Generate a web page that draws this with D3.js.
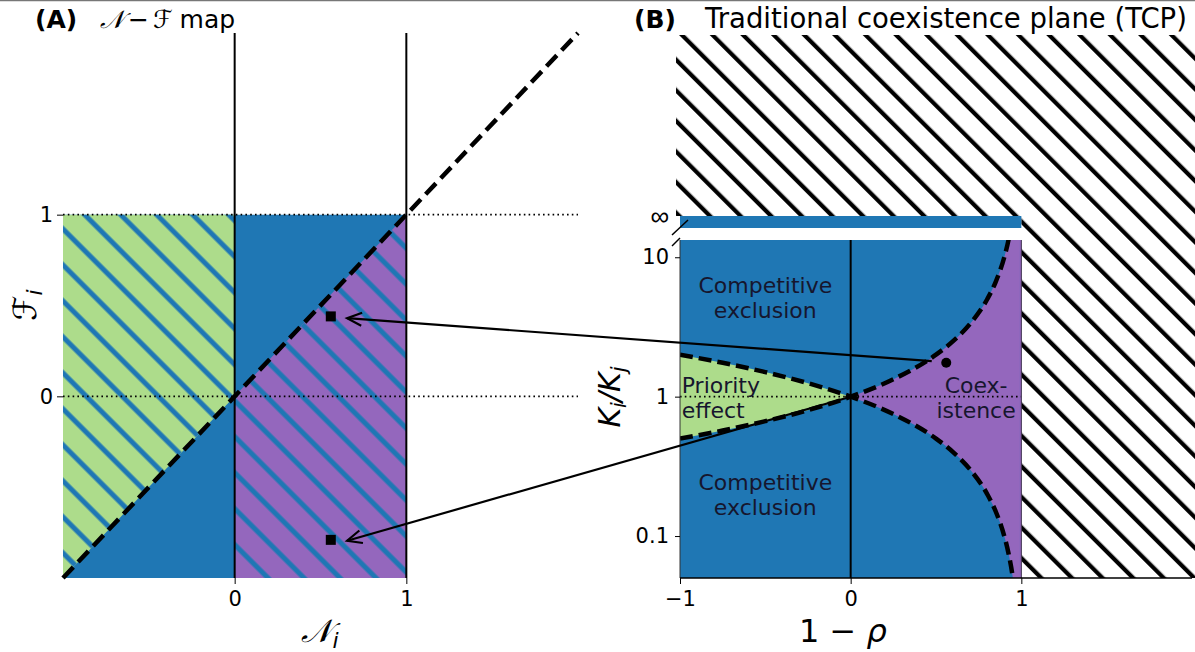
<!DOCTYPE html>
<html><head><meta charset="utf-8">
<script src="https://cdn.jsdelivr.net/npm/d3@7"></script>
<style>
html,body{margin:0;padding:0;background:#fff;}
svg{display:block;font-family:"DejaVu Sans",sans-serif;}
</style></head><body>
<svg id="chart" width="1195" height="652"></svg>
<script>
// ---------------- data ----------------
// Panel A: N-F map
const mapTicksX = [0, 1];
const mapTicksY = [0, 1];
const blueRegionA = [[-1, -1], [1, -1], [1, 1], [-1, 1]];
const greenRegionA = [[-1, -1], [0, 0], [0, 1], [-1, 1]];
const purpleRegionA = [[0, 0], [1, 1], [1, -1], [0, -1]];
const diagonalA = [[-1, -1], [2, 2]];
const verticalsA = [0, 1];
const dottedA = [0, 1];
const pointsA = [[0.56, 0.44], [0.56, -0.79]];

// Panel B: traditional coexistence plane
const tcpTicksX = [-1, 0, 1];
const tcpTickLabelsX = ["\u22121", "0", "1"];
const tcpTicksY = [0.1, 1, 10];
const tcpTickLabelsY = ["0.1", "1", "10"];
const gridX   = [-1, -0.75, -0.5, -0.25, 0, 0.25, 0.5, 0.6, 0.7, 0.8, 0.85, 0.9, 0.925, 0.95, 0.975, 0.99];
const rhoK    = [2.0, 1.75, 1.5, 1.25, 1.0, 0.75, 0.5, 0.4, 0.3, 0.2, 0.15, 0.1, 0.075, 0.05, 0.025, 0.01];
const invRhoK = [0.5, 0.571, 0.667, 0.8, 1.0, 1.333, 2.0, 2.5, 3.333, 5.0, 6.667, 10.0, 13.33, 20.0, 40.0, 100.0];
const pointB = [0.56, 1.75];
const arrowStartsB = [[0.475, 1.80], [-0.015, 0.985]];
const arrowEndsA = [[0.655, 0.43], [0.655, -0.795]];
const regionLabels = [
  {lines: ["Competitive", "exclusion"], x: -0.5, k: 5.2, anchor: "middle"},
  {lines: ["Competitive", "exclusion"], x: -0.5, k: 0.2, anchor: "middle"},
  {lines: ["Priority", "effect"], x: -0.99, k: 1.0, anchor: "start"},
  {lines: ["Coex-", "istence"], x: 0.735, k: 1.0, anchor: "middle"}
];

// ---------------- colours ----------------
const C_BLUE = "#1f77b4", C_GREEN = "#addc8b", C_PURPLE = "#9467bd", C_TEXT = "#16162e";

const svg = d3.select("#chart");
const defs = svg.append("defs");

function hatch(id, period, offset, width, color) {
  const p = defs.append("pattern").attr("id", id)
    .attr("patternUnits", "userSpaceOnUse")
    .attr("width", 10).attr("height", period)
    .attr("patternTransform", "rotate(45)");
  [-period, 0, period].forEach(s => {
    p.append("rect").attr("x", 0).attr("y", offset - width / 2 + s)
      .attr("width", 10).attr("height", width).attr("fill", color);
  });
}
hatch("hatchA", 36 / Math.SQRT2, 22 / Math.SQRT2, 5, C_BLUE);
hatch("hatchB", 30.6 / Math.SQRT2, 26.2 / Math.SQRT2, 4.2, "#000");

// thin frame line at very top
svg.append("line").attr("x1", 0).attr("x2", 1195).attr("y1", 0.5).attr("y2", 0.5)
  .attr("stroke", "#777").attr("stroke-width", 1.5);

// ================= Panel A =================
const xA = d3.scaleLinear([-1, 2], [63, 578]);
const yA = d3.scaleLinear([-1, 2], [578, 33]);
const gA = svg.append("g");
const lineA = d3.line().x(d => xA(d[0])).y(d => yA(d[1]));
const poly = pts => lineA(pts) + "Z";

gA.append("path").attr("d", poly(blueRegionA)).attr("fill", C_BLUE);
gA.append("path").attr("d", poly(greenRegionA)).attr("fill", C_GREEN);
gA.append("path").attr("d", poly(greenRegionA)).attr("fill", "url(#hatchA)");
gA.append("path").attr("d", poly(purpleRegionA)).attr("fill", C_PURPLE);
gA.append("path").attr("d", poly(purpleRegionA)).attr("fill", "url(#hatchA)");

dottedA.forEach(v => {
  gA.append("line").attr("x1", xA(-1)).attr("x2", xA(2)).attr("y1", yA(v)).attr("y2", yA(v))
    .attr("stroke", "#000").attr("stroke-width", 1.6).attr("stroke-dasharray", "1.6,3.2");
});
verticalsA.forEach(v => {
  gA.append("line").attr("x1", xA(v)).attr("x2", xA(v)).attr("y1", yA(-1)).attr("y2", yA(2))
    .attr("stroke", "#000").attr("stroke-width", 2);
});
gA.append("path").attr("d", lineA(diagonalA)).attr("fill", "none")
  .attr("stroke", "#000").attr("stroke-width", 4.5).attr("stroke-dasharray", "15,7");

gA.selectAll("rect.pt").data(pointsA).enter().append("rect")
  .attr("x", d => xA(d[0]) - 5).attr("y", d => yA(d[1]) - 5)
  .attr("width", 10).attr("height", 10).attr("fill", "#000");

const axA_x = gA.append("g").attr("transform", `translate(0,${yA(-1)})`)
  .call(d3.axisBottom(xA).tickValues(mapTicksX).tickFormat(d3.format("d")).tickSize(6).tickPadding(7));
const axA_y = gA.append("g").attr("transform", `translate(${xA(-1)},0)`)
  .call(d3.axisLeft(yA).tickValues(mapTicksY).tickFormat(d3.format("d")).tickSize(6).tickPadding(4));
[axA_x, axA_y].forEach(a => {
  a.attr("font-size", null).attr("font-family", null);
  a.select(".domain").remove();
  a.selectAll("text").style("font-size", "21px").style("font-family", "DejaVu Sans").attr("fill", "#000");
  a.selectAll("line").attr("stroke", "#000");
});

// axis labels A
svg.append("text").attr("x", 320).attr("y", 642).attr("text-anchor", "middle")
  .attr("font-size", 32).attr("font-style", "italic")
  .html('𝒩<tspan font-size="22" dy="6">i</tspan>');
svg.append("text").attr("transform", "translate(36,305) rotate(-90)").attr("text-anchor", "middle")
  .attr("font-size", 32).attr("font-style", "italic")
  .html('ℱ<tspan font-size="22" dy="6">i</tspan>');

// title A
svg.append("text").attr("x", 35).attr("y", 28).attr("font-size", 25).attr("font-weight", "bold").text("(A)");
svg.append("text").attr("x", 100).attr("y", 28).attr("font-size", 25)
  .html('<tspan font-style="italic">𝒩</tspan><tspan dx="4">−</tspan><tspan dx="4" font-style="italic">ℱ</tspan><tspan dx="7">map</tspan>');

// ================= Panel B =================
const xB = d3.scaleLinear([-1, 2], [680, 1192]);
const yB = d3.scaleLog([0.05, 13.3], [578, 240]);
const gB = svg.append("g");
const bandTop = 216, bandBot = 228, hatchTop = 35;

// hatched "not defined" area
const hatchPoly = [[676, hatchTop], [1195, hatchTop], [1195, yB(0.05)], [xB(1), yB(0.05)], [xB(1), bandTop], [676, bandTop]];
gB.append("path").attr("d", "M" + hatchPoly.map(p => p.join(",")).join("L") + "Z").attr("fill", "url(#hatchB)");

// infinity band
gB.append("rect").attr("x", xB(-1)).attr("y", bandTop).attr("width", xB(1) - xB(-1)).attr("height", bandBot - bandTop).attr("fill", C_BLUE);

// clip for main area
defs.append("clipPath").attr("id", "clipB").append("rect")
  .attr("x", xB(-1)).attr("y", yB(13.3)).attr("width", xB(1) - xB(-1)).attr("height", yB(0.05) - yB(13.3));
const plotB = gB.append("g").attr("clip-path", "url(#clipB)");
plotB.append("rect").attr("x", xB(-1)).attr("y", yB(13.3)).attr("width", xB(1) - xB(-1)).attr("height", yB(0.05) - yB(13.3)).attr("fill", C_BLUE);

const rows = gridX.map((x, i) => ({x, rho: rhoK[i], inv: invRhoK[i]}));
const leftRows = rows.filter(r => r.x <= 0);
const rightRows = rows.filter(r => r.x >= 0);
const areaGreen = d3.area().curve(d3.curveMonotoneX).x(d => xB(d.x)).y0(d => yB(d.inv)).y1(d => yB(d.rho));
const areaPurple = d3.area().curve(d3.curveMonotoneX).x(d => xB(d.x)).y0(d => yB(d.rho)).y1(d => yB(d.inv));
plotB.append("path").attr("d", areaGreen(leftRows)).attr("fill", C_GREEN);
plotB.append("path").attr("d", areaPurple(rightRows)).attr("fill", C_PURPLE);
const lastX = gridX[gridX.length - 1];
plotB.append("rect").attr("x", xB(lastX) - 0.5).attr("y", yB(13.3)).attr("width", xB(1) - xB(lastX) + 0.5)
  .attr("height", yB(0.05) - yB(13.3)).attr("fill", C_PURPLE);

// dotted kappa=1
plotB.append("line").attr("x1", xB(-1)).attr("x2", xB(1)).attr("y1", yB(1)).attr("y2", yB(1))
  .attr("stroke", "#000").attr("stroke-width", 1.6).attr("stroke-dasharray", "1.6,3.2");
// vertical at 0
plotB.append("line").attr("x1", xB(0)).attr("x2", xB(0)).attr("y1", yB(0.05)).attr("y2", yB(13.3))
  .attr("stroke", "#000").attr("stroke-width", 2);

// region labels
regionLabels.forEach(l => {
  const t = plotB.append("text").attr("font-size", 22).attr("fill", C_TEXT).attr("text-anchor", l.anchor);
  const cy = yB(l.k);
  l.lines.forEach((s, i) => {
    t.append("tspan").attr("x", xB(l.x)).attr("y", cy - 4 + (i === 0 ? 0 : 25)).text(s);
  });
});

// boundary curves
const curve = key => d3.line().curve(d3.curveMonotoneX).x(d => xB(d.x)).y(d => yB(d[key]))(rows);
["rho", "inv"].forEach(k => {
  plotB.append("path").attr("d", curve(k)).attr("fill", "none")
    .attr("stroke", "#000").attr("stroke-width", 4.5).attr("stroke-dasharray", "13,6");
});

// line separating region x=1
gB.append("line").attr("x1", xB(1)).attr("x2", xB(1)).attr("y1", yB(13.3)).attr("y2", yB(0.05))
  .attr("stroke", "#3a2a4a").attr("stroke-width", 1);

// point
gB.append("circle").attr("cx", xB(pointB[0])).attr("cy", yB(pointB[1])).attr("r", 5).attr("fill", "#000");

// spines and axes
gB.append("line").attr("x1", xB(-1)).attr("x2", xB(-1)).attr("y1", yB(13.3)).attr("y2", yB(0.05)).attr("stroke", "#333").attr("stroke-width", 1);
gB.append("line").attr("x1", xB(-1)).attr("x2", xB(2)).attr("y1", yB(0.05)).attr("y2", yB(0.05)).attr("stroke", "#000").attr("stroke-width", 1.5);

const axB_x = gB.append("g").attr("transform", `translate(0,${yB(0.05)})`)
  .call(d3.axisBottom(xB).tickValues(tcpTicksX).tickFormat((d, i) => tcpTickLabelsX[i]).tickSize(6).tickPadding(7));
const axB_y = gB.append("g").attr("transform", `translate(${xB(-1)},0)`)
  .call(d3.axisLeft(yB).tickValues(tcpTicksY).tickFormat((d, i) => tcpTickLabelsY[i]).tickSize(5).tickPadding(6));
[axB_x, axB_y].forEach(a => {
  a.attr("font-size", null).attr("font-family", null);
  a.select(".domain").remove();
  a.selectAll("text").style("font-size", "21px").style("font-family", "DejaVu Sans").attr("fill", "#000");
  a.selectAll("line").attr("stroke", "#000");
});
// infinity tick
gB.append("text").attr("x", xB(-1) - 11).attr("y", bandTop + 9).attr("text-anchor", "end")
  .style("font-size", "26px").style("font-family", "'Liberation Sans', 'DejaVu Sans'").text("\u221E");

// break marks
gB.append("line").attr("x1", 672).attr("y1", bandBot + 7).attr("x2", 688).attr("y2", bandBot - 8)
  .attr("stroke", "#000").attr("stroke-width", 1.5);
gB.append("line").attr("x1", 672).attr("y1", yB(13.3) + 6).attr("x2", xB(-1)).attr("y2", yB(13.3) - 2)
  .attr("stroke", "#000").attr("stroke-width", 1.5);

// axis labels B
svg.append("text").attr("x", 843).attr("y", 642).attr("text-anchor", "middle").attr("font-size", 32)
  .html('1 − <tspan font-style="italic">ρ</tspan>');
svg.append("text").attr("transform", "translate(620,397) rotate(-90)").attr("text-anchor", "middle")
  .attr("font-size", 30).attr("font-style", "italic")
  .html('K<tspan font-size="21" dy="6">i</tspan><tspan dy="-6">/K</tspan><tspan font-size="21" dy="6">j</tspan>');

// title B
svg.append("text").attr("x", 634).attr("y", 28).attr("font-size", 25).attr("font-weight", "bold").text("(B)");
svg.append("text").attr("x", 705).attr("y", 28).attr("font-size", 27.5).text("Traditional coexistence plane (TCP)");

// ================= arrows (figure-level annotation) =================
const gArr = svg.append("g");
arrowStartsB.forEach((s, i) => {
  const x1 = xB(s[0]), y1 = yB(s[1]);
  const x2 = xA(arrowEndsA[i][0]), y2 = yA(arrowEndsA[i][1]);
  gArr.append("line").attr("x1", x1).attr("y1", y1).attr("x2", x2).attr("y2", y2)
    .attr("stroke", "#000").attr("stroke-width", 2.2);
  const ang = Math.atan2(y1 - y2, x1 - x2), L = 16, h = 0.42;
  const pts = [[x2 + L * Math.cos(ang + h), y2 + L * Math.sin(ang + h)], [x2, y2], [x2 + L * Math.cos(ang - h), y2 + L * Math.sin(ang - h)]];
  gArr.append("path").attr("d", "M" + pts.map(p => p.join(",")).join("L")).attr("fill", "none")
    .attr("stroke", "#000").attr("stroke-width", 2.2).attr("stroke-linejoin", "miter");
});
</script>
</body></html>
